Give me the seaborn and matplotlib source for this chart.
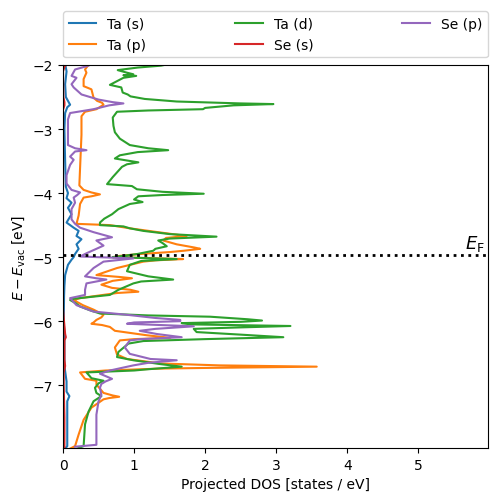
import matplotlib
matplotlib.use("Agg")
import matplotlib.pyplot as plt
import seaborn as sns
import pandas as pd
import numpy as np

# ---------------- data ----------------
labels = ["Ta (s)", "Ta (p)", "Ta (d)", "Se (s)", "Se (p)"]
E_F = -4.97

ta_s_E = [-1.98, -2.10, -2.30, -2.50, -2.58, -2.62, -2.66, -2.75, -3.00, -3.50, -3.90, -4.00,
          -4.08, -4.15, -4.23, -4.33, -4.46, -4.54, -4.59, -4.67, -4.72, -4.80, -4.87, -4.95,
          -5.00, -5.04, -5.12, -5.28, -5.45, -5.61, -6.00, -6.20, -6.70, -6.94, -7.10, -7.17,
          -7.25, -7.95, -7.99]
ta_s_dos = [0.03, 0.05, 0.03, 0.04, 0.08, 0.10, 0.06, 0.03, 0.02, 0.03, 0.04, 0.07,
            0.05, 0.12, 0.07, 0.12, 0.05, 0.15, 0.22, 0.19, 0.26, 0.19, 0.22, 0.17,
            0.15, 0.12, 0.07, 0.03, 0.02, 0.015, 0.01, 0.02, 0.02, 0.05, 0.05, 0.09,
            0.06, 0.06, 0.03]

ta_p_E = [-1.98, -2.01, -2.07, -2.12, -2.22, -2.33, -2.38, -2.51, -2.56, -2.59, -2.62, -2.67,
          -2.69, -2.73, -2.80, -3.03, -3.09, -3.35, -3.88, -3.95, -3.99, -4.02, -4.05, -4.07,
          -4.17, -4.35, -4.48, -4.50, -4.55, -4.60, -4.67, -4.70, -4.74, -4.80, -4.85, -4.87,
          -4.90, -4.92, -4.95, -4.98, -5.00, -5.03, -5.05, -5.07, -5.17, -5.28, -5.31, -5.33,
          -5.37, -5.43, -5.48, -5.51, -5.54, -5.56, -5.60, -5.64, -5.67, -5.75, -5.82, -5.90,
          -5.94, -5.98, -6.02, -6.04, -6.06, -6.09, -6.15, -6.22, -6.26, -6.28, -6.30, -6.41,
          -6.52, -6.59, -6.66, -6.69, -6.71, -6.73, -6.74, -6.77, -6.80, -6.90, -6.93, -6.99,
          -7.12, -7.16, -7.18, -7.20, -7.22, -7.35, -7.54, -7.77, -7.95, -7.99]
ta_p_dos = [0.38, 0.35, 0.31, 0.33, 0.29, 0.29, 0.40, 0.43, 0.48, 0.55, 0.57, 0.50,
            0.47, 0.31, 0.26, 0.26, 0.26, 0.25, 0.23, 0.29, 0.40, 0.52, 0.40, 0.29,
            0.24, 0.22, 0.19, 0.66, 0.94, 1.27, 1.74, 1.45, 1.41, 1.60, 1.85, 1.93,
            1.70, 1.51, 1.10, 0.80, 0.70, 1.69, 1.30, 1.13, 0.76, 0.47, 0.80, 0.97,
            0.70, 0.54, 0.69, 0.95, 1.06, 0.76, 0.50, 0.24, 0.15, 0.28, 0.43, 0.57,
            0.54, 0.47, 0.43, 0.40, 0.55, 0.66, 0.73, 1.18, 1.51, 1.00, 0.80, 0.73,
            0.76, 0.90, 1.37, 2.20, 3.57, 2.00, 1.37, 0.60, 0.24, 0.31, 0.47, 0.47,
            0.57, 0.70, 0.79, 0.65, 0.57, 0.40, 0.29, 0.22, 0.17, 0.10]

ta_d_E = [-1.98, -2.01, -2.04, -2.08, -2.12, -2.145, -2.16, -2.17, -2.20, -2.31, -2.35, -2.43,
          -2.46, -2.49, -2.53, -2.57, -2.60, -2.61, -2.63, -2.67, -2.69, -2.71, -2.73, -2.82,
          -2.95, -3.05, -3.15, -3.25, -3.30, -3.33, -3.36, -3.41, -3.46, -3.50, -3.52, -3.55,
          -3.59, -3.75, -3.86, -3.89, -3.94, -3.98, -4.01, -4.03, -4.05, -4.10, -4.14, -4.17,
          -4.25, -4.33, -4.40, -4.46, -4.50, -4.52, -4.55, -4.59, -4.64, -4.68, -4.71, -4.74,
          -4.78, -4.83, -4.87, -4.90, -4.95, -4.98, -5.00, -5.03, -5.06, -5.12, -5.22, -5.30,
          -5.35, -5.38, -5.41, -5.51, -5.59, -5.62, -5.65, -5.67, -5.72, -5.77, -5.83, -5.88,
          -5.91, -5.93, -5.97, -5.99, -6.01, -6.03, -6.05, -6.075, -6.10, -6.12, -6.17, -6.21,
          -6.25, -6.28, -6.31, -6.35, -6.48, -6.56, -6.61, -6.67, -6.71, -6.75, -6.77, -6.80,
          -6.85, -6.89, -6.93, -6.97, -7.04, -7.12, -7.17, -7.25, -7.41, -7.61, -7.95, -7.99]
ta_d_dos = [1.51, 1.38, 1.05, 0.77, 0.90, 0.99, 0.85, 1.03, 0.85, 0.66, 0.82, 0.84,
            0.91, 0.95, 1.15, 1.60, 2.50, 2.96, 2.40, 2.00, 1.97, 1.20, 0.76, 0.70,
            0.71, 0.73, 0.80, 0.94, 1.20, 1.48, 1.05, 0.80, 0.73, 0.95, 1.06, 0.90,
            0.83, 0.70, 0.62, 0.97, 1.04, 1.40, 1.98, 1.40, 1.06, 1.00, 1.12, 0.94,
            0.78, 0.69, 0.58, 0.52, 0.52, 0.85, 0.94, 1.13, 1.50, 2.16, 1.50, 1.34,
            1.40, 1.46, 1.30, 1.27, 1.05, 0.85, 0.70, 1.60, 1.10, 0.94, 0.90, 1.20,
            1.55, 1.10, 0.99, 0.78, 0.66, 0.40, 0.15, 0.10, 0.18, 0.24, 0.38, 0.52,
            1.20, 2.07, 2.60, 2.80, 2.50, 1.67, 1.80, 3.20, 2.40, 1.84, 1.88, 2.50,
            3.10, 2.00, 1.13, 0.92, 0.78, 0.76, 0.99, 1.37, 1.67, 1.20, 1.00, 0.33,
            0.37, 0.40, 0.57, 0.50, 0.45, 0.47, 0.54, 0.43, 0.36, 0.31, 0.29, 0.20]

se_s_E = [-1.98, -2.03, -2.10, -2.50, -2.58, -2.63, -2.70, -5.80, -5.95, -6.20, -6.25, -6.30,
          -6.60, -6.70, -6.80, -7.00, -7.50, -7.99]
se_s_dos = [0.05, 0.02, 0.00, 0.005, 0.02, 0.02, 0.00, 0.00, 0.01, 0.03, 0.04, 0.02,
            0.02, 0.03, 0.01, 0.01, 0.02, 0.02]

se_p_E = [-1.98, -2.01, -2.07, -2.17, -2.20, -2.30, -2.35, -2.46, -2.54, -2.58, -2.60, -2.63,
          -2.69, -2.75, -2.85, -3.25, -3.30, -3.33, -3.35, -3.43, -3.48, -3.56, -3.72, -3.85,
          -3.95, -3.99, -4.03, -4.07, -4.15, -4.25, -4.41, -4.48, -4.54, -4.61, -4.69, -4.74,
          -4.82, -4.89, -4.94, -4.99, -5.02, -5.07, -5.17, -5.30, -5.33, -5.35, -5.41, -5.51,
          -5.59, -5.64, -5.75, -5.85, -5.90, -5.95, -5.98, -6.00, -6.02, -6.04, -6.08, -6.12,
          -6.15, -6.20, -6.25, -6.28, -6.30, -6.41, -6.51, -6.59, -6.61, -6.65, -6.69, -6.77,
          -6.82, -6.90, -6.94, -6.98, -7.04, -7.15, -7.25, -7.46, -7.93, -7.96]
se_p_dos = [0.40, 0.36, 0.17, 0.12, 0.19, 0.12, 0.15, 0.26, 0.50, 0.70, 0.85, 0.65,
            0.43, 0.10, 0.07, 0.07, 0.17, 0.33, 0.17, 0.10, 0.15, 0.10, 0.05, 0.05,
            0.12, 0.24, 0.20, 0.15, 0.17, 0.12, 0.12, 0.17, 0.24, 0.43, 0.69, 0.47,
            0.57, 0.43, 0.33, 0.24, 0.99, 0.57, 0.43, 0.31, 0.47, 0.61, 0.33, 0.31,
            0.31, 0.10, 0.19, 0.43, 0.90, 1.30, 1.65, 1.65, 1.00, 0.90, 1.84, 1.30,
            1.08, 1.32, 1.67, 1.10, 0.94, 0.87, 0.94, 1.23, 1.60, 1.20, 0.99, 0.66,
            0.52, 0.69, 0.60, 0.54, 0.52, 0.54, 0.50, 0.47, 0.47, 0.17]

series = [(ta_s_E, ta_s_dos), (ta_p_E, ta_p_dos), (ta_d_E, ta_d_dos),
          (se_s_E, se_s_dos), (se_p_E, se_p_dos)]

frames = []
for lab, (e, d) in zip(labels, series):
    frames.append(pd.DataFrame({"energy": e, "dos": d, "orbital": lab,
                                "order": np.arange(len(e))}))
df = pd.concat(frames, ignore_index=True)

# ---------------- plot ----------------
fig, ax = plt.subplots(figsize=(4.98, 5.02), dpi=100)
fig.subplots_adjust(left=63/498, right=488/498, top=1-66/502, bottom=1-449/502)

sns.lineplot(data=df, x="dos", y="energy", hue="orbital", hue_order=labels,
             palette=sns.color_palette("tab10", 5), sort=False, estimator=None,
             units="orbital", lw=1.5, ax=ax)

ax.axhline(E_F, color="k", ls=":", lw=2)
ax.text(5.94, E_F + 0.03, r"$E_\mathrm{F}$", ha="right", va="bottom", fontsize=13)

ax.set_xlim(0, 5.98)
ax.set_ylim(-7.98, -2)
ax.set_xticks([0, 1, 2, 3, 4, 5])
ax.set_yticks([-7, -6, -5, -4, -3, -2])
ax.set_xlabel("Projected DOS [states / eV]")
ax.set_ylabel(r"$E - E_\mathrm{vac}$ [eV]")

handles, labs = ax.get_legend_handles_labels()
ax.legend(handles, labs, bbox_to_anchor=(0, 1.02, 1, 0.102), loc="lower left",
          mode="expand", ncol=3, borderaxespad=0.0)

fig.savefig("out.png", dpi=100)
